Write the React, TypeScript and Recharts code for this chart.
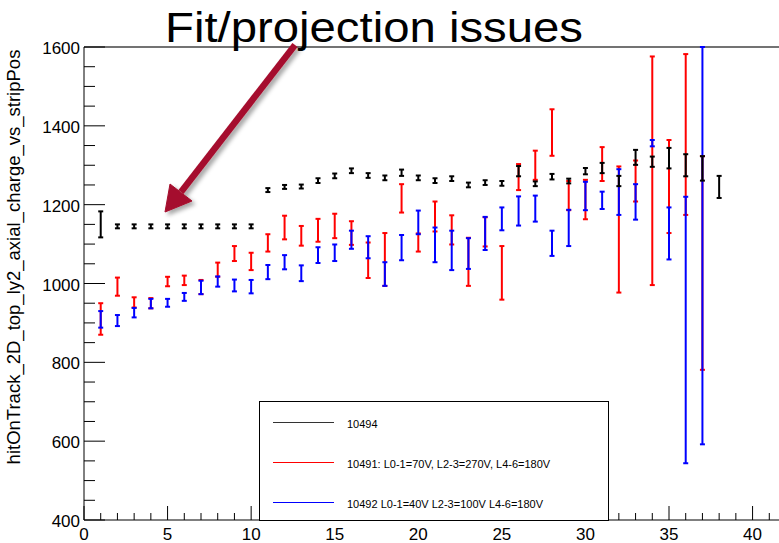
import React from "react";
import { ScatterChart, Scatter, XAxis, YAxis, ErrorBar, ReferenceLine } from "recharts";

// bin centres (strip groups)
const bins = [
  1, 2, 3, 4, 5, 6, 7, 8, 9, 10, 11, 12, 13, 14, 15, 16, 17, 18, 19,
  20, 21, 22, 23, 24, 25, 26, 27, 28, 29, 30, 31, 32, 33, 34, 35, 36, 37, 38,
];

// run 10494
const run10494Mean = [
  1150, 1145, 1145, 1145, 1145, 1145, 1145, 1145, 1145, 1145, 1237, 1245, 1246,
  1261, 1273, 1286, 1274, 1268, 1281, 1268, 1261, 1266, 1250, 1256, 1254, 1285,
  1253, 1271, 1260, 1285, 1293, 1260, 1320, 1309, 1318, 1300, 1292, 1245,
];
const run10494Err = [
  33, 5, 5, 5, 5, 5, 5, 5, 5, 5, 5, 5, 5, 6, 6, 6, 6, 6, 8, 6, 6, 6, 6, 6, 6,
  13, 6, 7, 6, 8, 13, 13, 19, 13, 26, 28, 31, 28,
];

// run 10491
const run10491Mean = [
  910, 992, 952, 950, 1005, 1008, 991, 1035, 1076, 1056, 1103, 1142, 1121, 1135,
  1146, 1128, 1059, 1061, 1216, 1104, 1170, 1136, 1055, 1131, 1027, 1270, 1300,
  1383, 1223, 1213, 1303, 1137, 1260, 1286, 1246, 1378, 1052,
];
const run10491Err = [
  40, 23, 13, 13, 12, 12, 18, 18, 19, 22, 22, 30, 25, 29, 31, 30, 45, 67, 36,
  23, 38, 37, 61, 37, 68, 33, 37, 59, 37, 50, 43, 160, 52, 290, 118, 204, 271,
];

// run 10492
const run10492Mean = [
  909, 906, 926, 949, 951, 966, 990, 1005, 995, 992, 1029, 1054, 1026, 1072,
  1078, 1111, 1092, 1024, 1091, 1155, 1098, 1084, 1076, 1127, 1164, 1184, 1190,
  1102, 1141, 1222, 1211, 1232, 1207, 1356, 1127, 882, 1096,
];
const run10492Err = [
  21, 14, 12, 12, 10, 10, 17, 13, 15, 17, 18, 18, 20, 20, 21, 23, 28, 30, 32,
  30, 44, 50, 39, 42, 29, 37, 33, 32, 46, 36, 22, 58, 45, 8, 66, 338, 504,
];

const xTicks = Array.from({ length: 43 }, (_, i) => i);
const yTicks = Array.from({ length: 25 }, (_, i) => 400 + i * 50);

const legendItems = [
  { label: "10494", color: "#333333" },
  { label: "10491: L0-1=70V, L2-3=270V, L4-6=180V", color: "#ff0000" },
  { label: "10492 L0-1=40V L2-3=100V L4-6=180V", color: "#0000ff" },
];

const FONT = "'Liberation Sans', Arial, Helvetica, sans-serif";

const toPoints = (mean: number[], err: number[]) =>
  mean.map((y, i) => ({ x: bins[i], y, err: err[i] }));

const red = toPoints(run10491Mean, run10491Err);
const blue = toPoints(run10492Mean, run10492Err);
const black = toPoints(run10494Mean, run10494Err);

const XTick = (props: any) => {
  const { x, y, payload } = props;
  const major = payload.value % 5 === 0;
  return (
    <g>
      <line x1={x} x2={x} y1={y} y2={y - (major ? 14 : 7)} stroke="#000" />
      {major && (
        <text x={x} y={y + 20} textAnchor="middle" fontSize={17} fontFamily={FONT} fill="#000">
          {payload.value}
        </text>
      )}
    </g>
  );
};

const YTick = (props: any) => {
  const { x, y, payload } = props;
  const major = payload.value % 200 === 0;
  return (
    <g>
      <line x1={x} x2={x + (major ? 21 : 11)} y1={y} y2={y} stroke="#000" />
      {major && (
        <text x={x - 4} y={y + 7} textAnchor="end" fontSize={17} fontFamily={FONT} fill="#000">
          {payload.value}
        </text>
      )}
    </g>
  );
};

const noMarker = () => <g />;

export default function App() {
  return (
    <div
      style={{
        position: "fixed",
        left: 0,
        top: 0,
        width: 779,
        height: 543,
        overflow: "hidden",
        background: "#fff",
        fontFamily: FONT,
      }}
    >
      <ScatterChart width={800} height={543} margin={{ top: 47, right: 14, bottom: 0, left: 0 }}>
        <XAxis
          type="number"
          dataKey="x"
          domain={[0, 42]}
          ticks={xTicks}
          interval={0}
          allowDataOverflow
          height={23}
          tickSize={0}
          tickMargin={0}
          tickLine={false}
          tick={<XTick />}
          axisLine={{ stroke: "#000" }}
        />
        <YAxis
          type="number"
          dataKey="y"
          domain={[400, 1600]}
          ticks={yTicks}
          interval={0}
          allowDataOverflow
          width={84}
          tickSize={0}
          tickMargin={0}
          tickLine={false}
          tick={<YTick />}
          axisLine={{ stroke: "#000" }}
        />
        <ReferenceLine y={1600} stroke="#444" strokeWidth={1.5} />
        <Scatter data={red} shape={noMarker} isAnimationActive={false}>
          <ErrorBar dataKey="err" direction="y" width={2.5} strokeWidth={2} stroke="#ff0000" isAnimationActive={false} />
        </Scatter>
        <Scatter data={blue} shape={noMarker} isAnimationActive={false}>
          <ErrorBar dataKey="err" direction="y" width={2.5} strokeWidth={2} stroke="#0000ff" isAnimationActive={false} />
        </Scatter>
        <Scatter data={black} shape={noMarker} isAnimationActive={false}>
          <ErrorBar dataKey="err" direction="y" width={2.5} strokeWidth={2} stroke="#000" isAnimationActive={false} />
        </Scatter>
      </ScatterChart>

      {/* legend box */}
      <div
        style={{
          position: "absolute",
          left: 259,
          top: 401,
          width: 350,
          height: 120,
          boxSizing: "border-box",
          border: "1px solid #000",
          background: "#fff",
        }}
      >
        {legendItems.map((item, i) => (
          <div key={item.label} style={{ position: "absolute", left: 0, top: 20 + i * 40, width: "100%" }}>
            <div style={{ position: "absolute", left: 13, top: 0, width: 61, height: 1, background: item.color }} />
            <div
              style={{
                position: "absolute",
                left: 87,
                top: -5,
                fontSize: 11,
                lineHeight: "14px",
                whiteSpace: "nowrap",
                color: "#000",
              }}
            >
              {item.label}
            </div>
          </div>
        ))}
      </div>

      {/* title, axis title and arrow */}
      <svg
        width={779}
        height={543}
        style={{ position: "absolute", left: 0, top: 0, pointerEvents: "none" }}
      >
        <defs>
          <filter id="arrowShadow" x="-20%" y="-20%" width="140%" height="140%">
            <feDropShadow dx="3" dy="3" stdDeviation="2" floodColor="#000" floodOpacity="0.35" />
          </filter>
        </defs>
        <text
          x={20}
          y={257}
          transform="rotate(-90 20 257)"
          textAnchor="middle"
          fontSize={18.5}
          fontFamily={FONT}
          fill="#000"
        >
          hitOnTrack_2D_top_ly2_axial_charge_vs_stripPos
        </text>
        <g filter="url(#arrowShadow)" fill="#a50e2d" stroke="#a50e2d">
          <line x1={295} y1={45} x2={181} y2={192} strokeWidth={6.5} />
          <polygon points="165,212 170,184 192,201" strokeWidth={1} />
        </g>
        <text
          x={165}
          y={42}
          fontSize={42}
          fontFamily={FONT}
          fill="#000"
          textLength={418}
          lengthAdjust="spacingAndGlyphs"
        >
          Fit/projection issues
        </text>
      </svg>
    </div>
  );
}
